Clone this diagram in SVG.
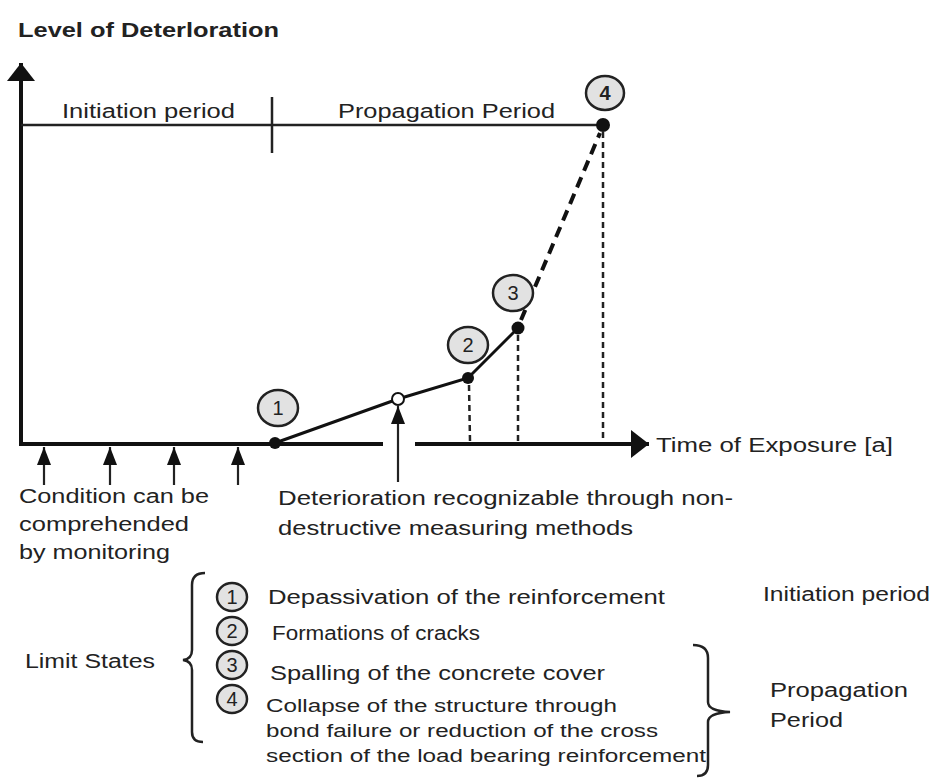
<svg xmlns="http://www.w3.org/2000/svg" width="938" height="778" viewBox="0 0 938 778">
<defs>
<style>
text{font-family:"Liberation Sans",Arial,sans-serif;fill:#222;}
.t{font-size:19.5px;}
.s{font-size:17.5px;}
.b{font-weight:bold;}
.ax{stroke:#111;stroke-width:4;fill:none;}
.thin{stroke:#222;stroke-width:2.5;fill:none;}
.curve{stroke:#111;stroke-width:3;fill:none;}
.dash{stroke:#111;stroke-width:4;fill:none;stroke-dasharray:11 7;}
.dot{stroke:#222;stroke-width:2.5;fill:none;stroke-dasharray:6 4;}
.arr{stroke:#222;stroke-width:2.2;fill:none;}
.pt{fill:#111;}
.open{fill:#fff;stroke:#111;stroke-width:2;}
.ls{fill:#e2e2e2;stroke:#222;stroke-width:2.5;}
.num{font-size:20px;text-anchor:middle;}
.brace{stroke:#222;stroke-width:2.5;fill:none;}
</style>
<marker id="ah" viewBox="0 0 18 14" refX="18" refY="7" markerWidth="18" markerHeight="14" markerUnits="userSpaceOnUse" orient="auto"><path d="M0,0 L18,7 L0,14 z" fill="#111"/></marker>
<marker id="ahBig" viewBox="0 0 18 28" refX="18" refY="14" markerWidth="18" markerHeight="28" markerUnits="userSpaceOnUse" orient="auto"><path d="M0,0 L18,14 L0,28 z" fill="#111"/></marker>
</defs>
<rect width="938" height="778" fill="#fff"/>

<g id="title"><text class="t b" x="18" y="37" textLength="261" lengthAdjust="spacingAndGlyphs">Level of Deterloration</text></g>

<g id="connectors">
  <line class="ax" x1="21" y1="446" x2="21" y2="63" marker-end="url(#ahBig)"/>
  <line class="ax" x1="19" y1="444" x2="383" y2="444"/>
  <line class="ax" x1="415" y1="444" x2="649" y2="444" marker-end="url(#ahBig)"/>
  <line class="thin" x1="21" y1="125" x2="603" y2="125"/>
  <line class="thin" x1="272" y1="97" x2="272" y2="153"/>
  <polyline class="curve" points="275,443 398,399 468,378 518,328"/>
  <line class="dash" x1="521" y1="320" x2="600" y2="133"/>
  <line class="dot" x1="469" y1="385" x2="470" y2="441"/>
  <line class="dot" x1="518" y1="335" x2="518" y2="441"/>
  <line class="dot" x1="603" y1="132" x2="603" y2="441"/>
  <line class="arr" x1="44" y1="485" x2="44" y2="447" marker-end="url(#ah)"/>
  <line class="arr" x1="110" y1="485" x2="110" y2="447" marker-end="url(#ah)"/>
  <line class="arr" x1="174" y1="485" x2="174" y2="447" marker-end="url(#ah)"/>
  <line class="arr" x1="238" y1="485" x2="238" y2="447" marker-end="url(#ah)"/>
  <line class="arr" x1="398" y1="482" x2="398" y2="406" marker-end="url(#ah)"/>
</g>

<g id="points">
  <circle class="pt" cx="275" cy="443" r="6"/>
  <circle class="open" cx="398" cy="399" r="6"/>
  <circle class="pt" cx="468" cy="378" r="6"/>
  <circle class="pt" cx="518" cy="328" r="6.5"/>
  <circle class="pt" cx="603" cy="125" r="7"/>
</g>

<g id="state1"><ellipse class="ls" cx="278" cy="408" rx="20" ry="18"/><text class="num" x="278" y="415">1</text></g>
<g id="state2"><ellipse class="ls" cx="468" cy="345" rx="20" ry="18"/><text class="num" x="468" y="352">2</text></g>
<g id="state3"><ellipse class="ls" cx="513" cy="293" rx="20" ry="18"/><text class="num" x="513" y="300">3</text></g>
<g id="state4"><ellipse class="ls" cx="605" cy="93" rx="19" ry="17"/><text class="num b" x="605" y="100">4</text></g>

<g id="period-labels">
  <text class="t" x="62" y="118" textLength="173" lengthAdjust="spacingAndGlyphs">Initiation period</text>
  <text class="t" x="338" y="118" textLength="217" lengthAdjust="spacingAndGlyphs">Propagation Period</text>
</g>
<g id="x-label"><text class="t" x="656" y="452" textLength="237" lengthAdjust="spacingAndGlyphs">Time of Exposure [a]</text></g>

<g id="monitoring">
  <text class="t" x="19" y="503" textLength="190" lengthAdjust="spacingAndGlyphs">Condition can be</text>
  <text class="t" x="19" y="531" textLength="170" lengthAdjust="spacingAndGlyphs">comprehended</text>
  <text class="t" x="19" y="559" textLength="151" lengthAdjust="spacingAndGlyphs">by monitoring</text>
</g>
<g id="ndt">
  <text class="t" x="278" y="505" textLength="455" lengthAdjust="spacingAndGlyphs">Deterioration recognizable through non-</text>
  <text class="t" x="278" y="535" textLength="355" lengthAdjust="spacingAndGlyphs">destructive measuring methods</text>
</g>

<g id="legend">
  <text class="t" x="25" y="668" textLength="130" lengthAdjust="spacingAndGlyphs">Limit States</text>
  <path class="brace" d="M205,573 Q192,573 192,585 L192,650 Q192,659 183,660 Q192,661 192,670 L192,732 Q192,742 203,742"/>
  <g id="leg1"><ellipse class="ls" cx="232" cy="597" rx="15" ry="14"/><text class="num" x="232" y="604">1</text>
    <text class="t" x="268" y="604" textLength="397" lengthAdjust="spacingAndGlyphs">Depassivation of the reinforcement</text></g>
  <g id="leg2"><ellipse class="ls" cx="232" cy="631" rx="15" ry="14"/><text class="num" x="232" y="638">2</text>
    <text class="t" x="272" y="640" textLength="208" lengthAdjust="spacingAndGlyphs">Formations of cracks</text></g>
  <g id="leg3"><ellipse class="ls" cx="232" cy="665" rx="15" ry="14"/><text class="num" x="232" y="672">3</text>
    <text class="t" x="270" y="680" textLength="335" lengthAdjust="spacingAndGlyphs">Spalling of the concrete cover</text></g>
  <g id="leg4"><ellipse class="ls" cx="232" cy="699" rx="15" ry="14"/><text class="num" x="232" y="706">4</text>
    <text class="s" x="266" y="712" textLength="351" lengthAdjust="spacingAndGlyphs">Collapse of the structure through</text>
    <text class="s" x="266" y="737" textLength="392" lengthAdjust="spacingAndGlyphs">bond failure or reduction of the cross</text>
    <text class="s" x="266" y="762" textLength="440" lengthAdjust="spacingAndGlyphs">section of the load bearing reinforcement</text></g>
  <path class="brace" d="M693,645 Q708,645 708,658 L708,702 Q708,711 730,712 Q708,713 708,722 L708,765 Q708,776 697,776"/>
  <text class="t" x="763" y="601" textLength="167" lengthAdjust="spacingAndGlyphs">Initiation period</text>
  <text class="t" x="770" y="697" textLength="138" lengthAdjust="spacingAndGlyphs">Propagation</text>
  <text class="t" x="770" y="727" textLength="73" lengthAdjust="spacingAndGlyphs">Period</text>
</g>
</svg>
